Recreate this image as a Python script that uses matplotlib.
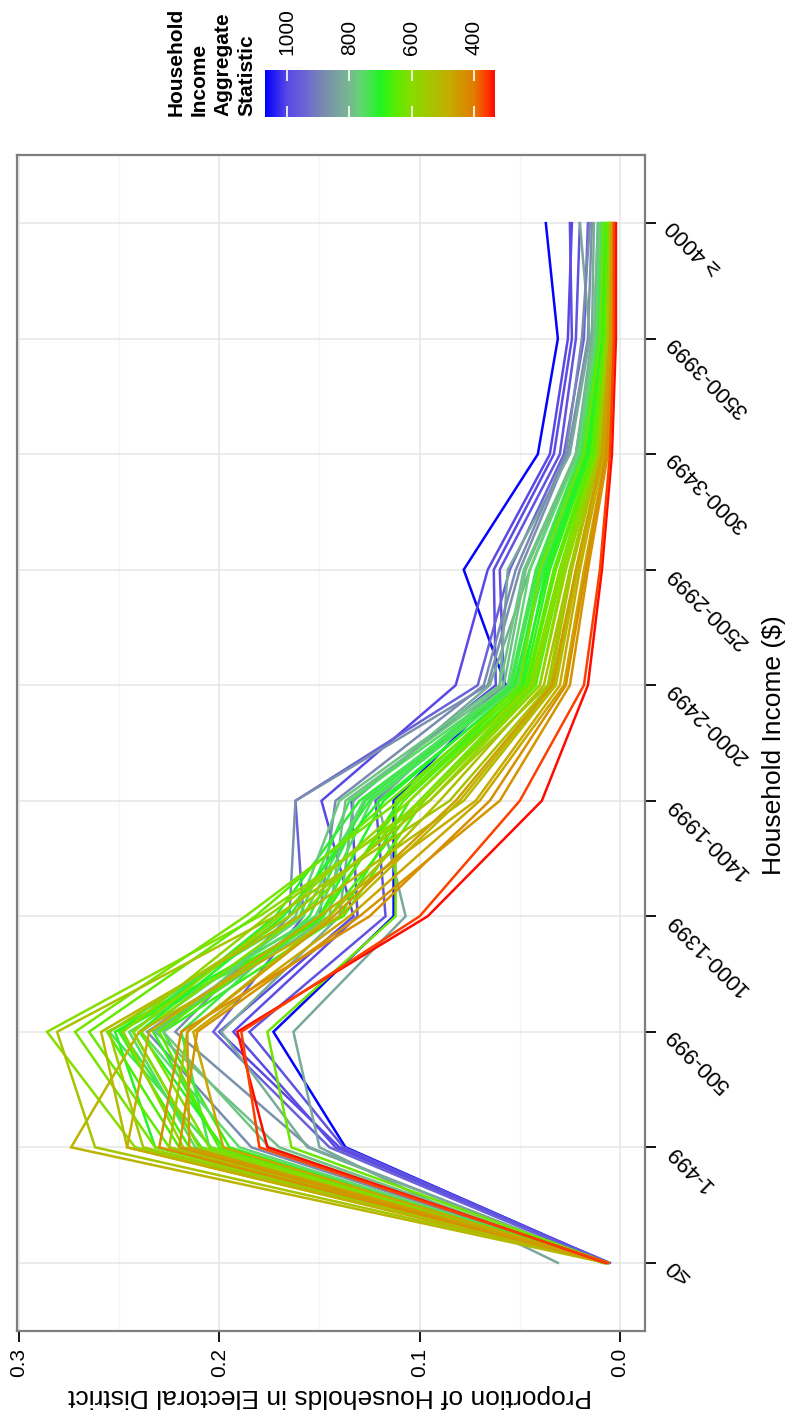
import numpy as np
import matplotlib
matplotlib.use("Agg")
import matplotlib.pyplot as plt
from matplotlib.colors import LinearSegmentedColormap, Normalize

plt.rcParams['font.family'] = ['Liberation Sans', 'DejaVu Sans']

# ---------------- data ----------------
categories = ['≤0', '1-499', '500-999', '1000-1399', '1400-1999',
              '2000-2499', '2500-2999', '3000-3499', '3500-3999', '≥ 4000']

# household income aggregate statistic (colour) for each district line
stat = [1065, 1000, 990, 975, 950, 870, 830, 880, 820,
        740, 720, 700, 710, 690, 680, 760, 730, 670, 660, 780, 750, 705, 790,
        600, 620, 640, 590, 610, 650, 580, 630,
        500, 540, 510, 480, 530, 470, 550,
        440, 430, 455, 334, 365]

# proportion of households per income bracket, one list per district
l01 = [0.006, 0.137, 0.173, 0.113, 0.113, 0.057, 0.078, 0.041, 0.031, 0.037]
l02 = [0.006, 0.140, 0.200, 0.133, 0.149, 0.082, 0.066, 0.035, 0.026, 0.024]
l03 = [0.005, 0.142, 0.193, 0.131, 0.134, 0.062, 0.063, 0.033, 0.024, 0.025]
l04 = [0.006, 0.138, 0.185, 0.117, 0.122, 0.058, 0.060, 0.030, 0.022, 0.020]
l05 = [0.007, 0.145, 0.203, 0.158, 0.162, 0.071, 0.055, 0.028, 0.018, 0.016]
l06 = [0.008, 0.155, 0.222, 0.165, 0.162, 0.066, 0.050, 0.026, 0.016, 0.014]
l07 = [0.031, 0.150, 0.163, 0.107, 0.121, 0.060, 0.056, 0.025, 0.015, 0.020]
l08 = [0.007, 0.184, 0.236, 0.150, 0.142, 0.068, 0.052, 0.027, 0.019, 0.015]
l09 = [0.008, 0.156, 0.199, 0.140, 0.133, 0.065, 0.045, 0.022, 0.014, 0.013]
l10 = [0.007, 0.204, 0.255, 0.160, 0.135, 0.055, 0.042, 0.020, 0.012, 0.010]
l11 = [0.006, 0.209, 0.249, 0.165, 0.125, 0.052, 0.040, 0.018, 0.010, 0.009]
l12 = [0.007, 0.232, 0.252, 0.150, 0.118, 0.050, 0.036, 0.016, 0.009, 0.008]
l13 = [0.006, 0.210, 0.243, 0.172, 0.130, 0.053, 0.038, 0.017, 0.010, 0.008]
l14 = [0.007, 0.200, 0.233, 0.148, 0.110, 0.048, 0.035, 0.015, 0.009, 0.007]
l15 = [0.006, 0.195, 0.228, 0.140, 0.105, 0.046, 0.033, 0.014, 0.008, 0.007]
l16 = [0.008, 0.190, 0.239, 0.158, 0.128, 0.056, 0.045, 0.021, 0.012, 0.010]
l17 = [0.007, 0.205, 0.219, 0.155, 0.127, 0.054, 0.041, 0.019, 0.011, 0.009]
l18 = [0.006, 0.215, 0.250, 0.145, 0.100, 0.044, 0.030, 0.013, 0.007, 0.006]
l19 = [0.007, 0.220, 0.256, 0.138, 0.098, 0.042, 0.029, 0.012, 0.007, 0.006]
l20 = [0.009, 0.175, 0.228, 0.162, 0.140, 0.060, 0.048, 0.022, 0.013, 0.011]
l21 = [0.007, 0.212, 0.245, 0.152, 0.124, 0.051, 0.039, 0.018, 0.010, 0.009]
l22 = [0.006, 0.198, 0.240, 0.168, 0.120, 0.049, 0.037, 0.017, 0.009, 0.008]
l23 = [0.008, 0.170, 0.232, 0.145, 0.137, 0.058, 0.047, 0.022, 0.013, 0.011]
l24 = [0.006, 0.242, 0.286, 0.180, 0.095, 0.040, 0.028, 0.011, 0.006, 0.005]
l25 = [0.007, 0.232, 0.272, 0.187, 0.110, 0.045, 0.030, 0.012, 0.007, 0.006]
l26 = [0.006, 0.225, 0.265, 0.182, 0.115, 0.047, 0.033, 0.014, 0.008, 0.006]
l27 = [0.007, 0.210, 0.243, 0.170, 0.105, 0.044, 0.030, 0.012, 0.007, 0.005]
l28 = [0.007, 0.205, 0.239, 0.160, 0.100, 0.043, 0.029, 0.012, 0.006, 0.005]
l29 = [0.006, 0.200, 0.230, 0.150, 0.108, 0.046, 0.032, 0.013, 0.008, 0.006]
l30 = [0.007, 0.218, 0.248, 0.176, 0.098, 0.040, 0.027, 0.011, 0.006, 0.005]
l31 = [0.006, 0.164, 0.176, 0.112, 0.112, 0.050, 0.040, 0.018, 0.010, 0.008]
l32 = [0.007, 0.274, 0.240, 0.140, 0.080, 0.033, 0.022, 0.009, 0.005, 0.004]
l33 = [0.006, 0.262, 0.281, 0.172, 0.085, 0.035, 0.024, 0.010, 0.005, 0.004]
l34 = [0.007, 0.246, 0.259, 0.160, 0.078, 0.032, 0.021, 0.008, 0.004, 0.004]
l35 = [0.006, 0.246, 0.235, 0.150, 0.072, 0.030, 0.020, 0.008, 0.004, 0.003]
l36 = [0.007, 0.225, 0.216, 0.145, 0.090, 0.038, 0.025, 0.010, 0.006, 0.005]
l37 = [0.008, 0.198, 0.213, 0.135, 0.070, 0.028, 0.018, 0.007, 0.004, 0.003]
l38 = [0.006, 0.238, 0.255, 0.165, 0.095, 0.036, 0.025, 0.011, 0.006, 0.005]
l39 = [0.007, 0.220, 0.211, 0.130, 0.060, 0.025, 0.016, 0.006, 0.003, 0.003]
l40 = [0.006, 0.230, 0.219, 0.125, 0.065, 0.027, 0.017, 0.007, 0.004, 0.003]
l41 = [0.007, 0.215, 0.216, 0.143, 0.082, 0.034, 0.022, 0.009, 0.005, 0.004]
l42 = [0.007, 0.176, 0.191, 0.096, 0.039, 0.016, 0.009, 0.004, 0.002, 0.002]
l43 = [0.006, 0.180, 0.189, 0.100, 0.050, 0.018, 0.010, 0.005, 0.003, 0.003]

districts = [l01, l02, l03, l04, l05, l06, l07, l08, l09, l10, l11, l12, l13,
             l14, l15, l16, l17, l18, l19, l20, l21, l22, l23, l24, l25, l26,
             l27, l28, l29, l30, l31, l32, l33, l34, l35, l36, l37, l38, l39,
             l40, l41, l42, l43]

x_ticks = [0.3, 0.2, 0.1, 0.0]
x_ticklabels = ['0.3', '0.2', '0.1', '0.0']
cbar_ticks = [1000, 800, 600, 400]

# ---------------- style ----------------
vmin, vmax = 334, 1069
nodes = [(334, '#ff0a00'), (360, '#ff3a00'), (400, '#e27d00'), (480, '#c4ad00'),
         (600, '#88dd00'), (650, '#5aec00'), (700, '#22f522'), (760, '#60d870'),
         (800, '#78b890'), (880, '#7a8cb0'), (950, '#6a60d8'), (1000, '#5a48e6'),
         (1069, '#0000ff')]
cmap = LinearSegmentedColormap.from_list(
    'inc', [((v - vmin) / (vmax - vmin), c) for v, c in nodes])
norm = Normalize(vmin, vmax)

W, H = 790, 1416
fig = plt.figure(figsize=(W / 100, H / 100), dpi=100)
ax = fig.add_axes([17 / W, 1 - 1331 / H, 628 / W, (1331 - 155) / H])

ypos = np.arange(len(categories))
for vals, s in zip(districts, stat):
    ax.plot(vals, ypos, color=cmap(norm(s)), lw=1.8, solid_joinstyle='miter')

ax.set_xlim(0.301, -0.0125)
ax.set_ylim(-0.59, 9.59)
ax.set_xticks(x_ticks)
ax.set_xticklabels(x_ticklabels, rotation=90, fontsize=15)
ax.set_xticks([0.25, 0.15, 0.05], minor=True)
ax.yaxis.tick_right()
ax.set_yticks(ypos)
ax.set_yticklabels(categories, rotation=135, rotation_mode='anchor',
                   ha='right', va='center', fontsize=16)
ax.tick_params(axis='both', which='major', length=8, width=1.3, color='black')
ax.tick_params(axis='x', pad=4)
ax.tick_params(axis='y', pad=10)
ax.tick_params(which='minor', length=0)
ax.grid(which='major', color='#e5e5e5', lw=1.1)
ax.grid(which='minor', axis='x', color='#f5f5f5', lw=1.0)
ax.set_axisbelow(True)
for sp in ax.spines.values():
    sp.set_color('#7f7f7f')
    sp.set_linewidth(1.6)

fig.text(330 / W, 1 - 1396 / H, 'Proportion of Households in Electoral District',
         rotation=180, ha='center', va='center', fontsize=19)
fig.text(774 / W, 1 - 745 / H, 'Household Income ($)',
         rotation=90, ha='center', va='center', fontsize=19)

# colour bar legend
cax = fig.add_axes([265 / W, 1 - 117 / H, 230 / W, 47 / H])
grad = np.linspace(vmin, vmax, 512).reshape(1, -1)
cax.imshow(grad, cmap=cmap, norm=norm, aspect='auto',
           extent=[vmin, vmax, 0, 1], origin='lower')
cax.set_xlim(vmax, vmin)
cax.set_ylim(0, 1)
cax.set_yticks([])
cax.set_xticks(cbar_ticks)
cax.set_xticklabels([str(t) for t in cbar_ticks], rotation=90, fontsize=15)
cax.tick_params(axis='x', direction='in', top=True, bottom=True,
                labeltop=True, labelbottom=False, color='white',
                length=8, width=1.2, pad=11)
for sp in cax.spines.values():
    sp.set_visible(False)

fig.text(256 / W, 1 - 116 / H, 'Household\nIncome\nAggregate\nStatistic',
         rotation=90, ha='right', va='bottom', fontsize=15, fontweight='bold',
         linespacing=1.3, multialignment='left')

fig.savefig('out.png', dpi=100)
